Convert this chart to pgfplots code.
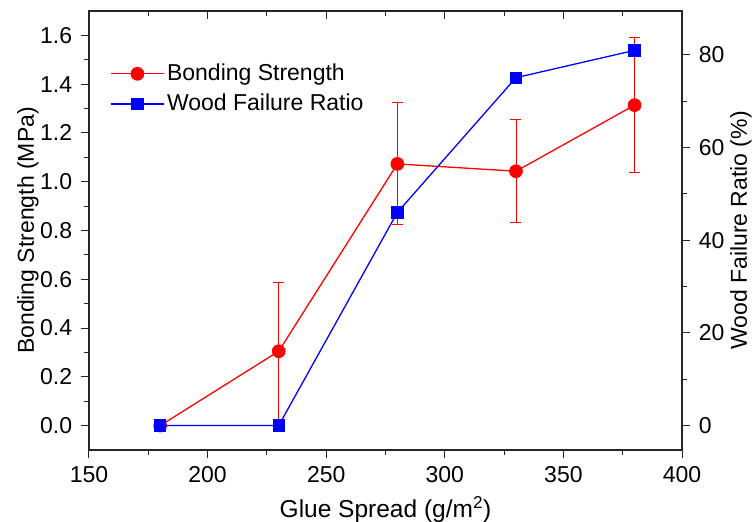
\documentclass[border=0pt]{standalone}
\usepackage{fontspec}
\setmainfont{Liberation Sans}
\usepackage{pgfplots}
\pgfplotsset{compat=1.18}
\definecolor{pred}{RGB}{255,0,0}
\definecolor{pblue}{RGB}{0,0,255}
\pgfplotsset{
  common/.style={
    scale only axis, width=593bp, height=439bp,
    xmin=150, xmax=400,
    axis line style={line width=1.1bp, black!85},
    every tick/.style={line width=1bp, black!85},
    major tick length=8bp, minor tick length=5bp,
    tick label style={font=\fontsize{23bp}{27bp}\selectfont},
    label style={font=\fontsize{23bp}{27bp}\selectfont},
    /pgf/number format/assume math mode=true,
    clip=false,
  }
}
\begin{document}
\fontsize{23bp}{27bp}\selectfont
\begin{tikzpicture}
\begin{axis}[common, name=ax,
  ymin=-0.1, ymax=1.7,
  xtick={150,200,250,300,350,400}, minor x tick num=1,
  ytick={0,0.2,0.4,0.6,0.8,1.0,1.2,1.4,1.6}, minor y tick num=1,
  xtick pos=left, ytick pos=left, tick align=outside,
  yticklabel style={xshift=-1bp, /pgf/number format/.cd, fixed, fixed zerofill, precision=1},
  xticklabel style={yshift=-1bp},
  xlabel={Glue Spread (g/m\textsuperscript{2})},
  ylabel={Bonding Strength (MPa)},
  xlabel style={at={(axis description cs:0.5,-0.1355)}, anchor=center, font=\fontsize{24.5bp}{28bp}\selectfont},
  ylabel style={at={(axis description cs:-0.103,0.5)}, anchor=center},
  legend style={at={(axis description cs:0.0355,0.886)}, anchor=north west,
    draw=none, fill=none, inner sep=0pt, row sep=5bp,
    font=\fontsize{23bp}{27bp}\selectfont,
    nodes={inner sep=2.5bp}},
  legend cell align=left,
  legend image code/.code={\draw[mark repeat=2, mark phase=2] plot coordinates {(0bp,0bp) (26.5bp,0bp) (53bp,0bp)};},
]
\addplot[pred, line width=1.3bp, mark=*, mark size=6.2bp, mark options={solid, fill=pred, draw=pred},
  error bars/.cd, y dir=both, y explicit,
  error bar style={pred, line width=0.9bp},
  error mark options={pred, line width=0.9bp, mark size=5.5bp, rotate=90}]
  coordinates {
    (180,0.0) +- (0,0.0)
    (230,0.305) +- (0,0.28)
    (280,1.073) +- (0,0.25)
    (330,1.043) +- (0,0.212)
    (380,1.314) +- (0,0.276)
  };
\addlegendentry{Bonding Strength}
\addlegendimage{pblue, line width=1.3bp, mark=square*, mark size=5.5bp, mark options={solid, fill=pblue, draw=pblue}}
\addlegendentry{Wood Failure Ratio}
\end{axis}
\begin{axis}[common,
  ymin=-5.3, ymax=89.5,
  axis y line*=right, axis x line=none,
  ytick={0,20,40,60,80}, minor y tick num=1,
  tick align=outside,
  yticklabel style={xshift=1bp},
  ylabel={Wood Failure Ratio (\%)},
  ylabel style={at={(axis description cs:1.0995,0.5)}, anchor=center},
]
\addplot[pblue, line width=1.3bp, mark=square*, mark size=5.5bp, mark options={solid, fill=pblue, draw=pblue}]
  coordinates {(180,0) (230,0) (280,46) (330,75.1) (380,81)};
\end{axis}
\begin{axis}[common,
  ymin=0, ymax=1,
  axis x line*=top, axis y line=none,
  xtick={150,200,250,300,350,400}, minor x tick num=1,
  xticklabels={}, tick align=inside,
]
\end{axis}
\pgfresetboundingbox
\path ([shift={(-89bp,-72bp)}]ax.south west) rectangle ([shift={(70bp,11bp)}]ax.north east);
\end{tikzpicture}
\end{document}
